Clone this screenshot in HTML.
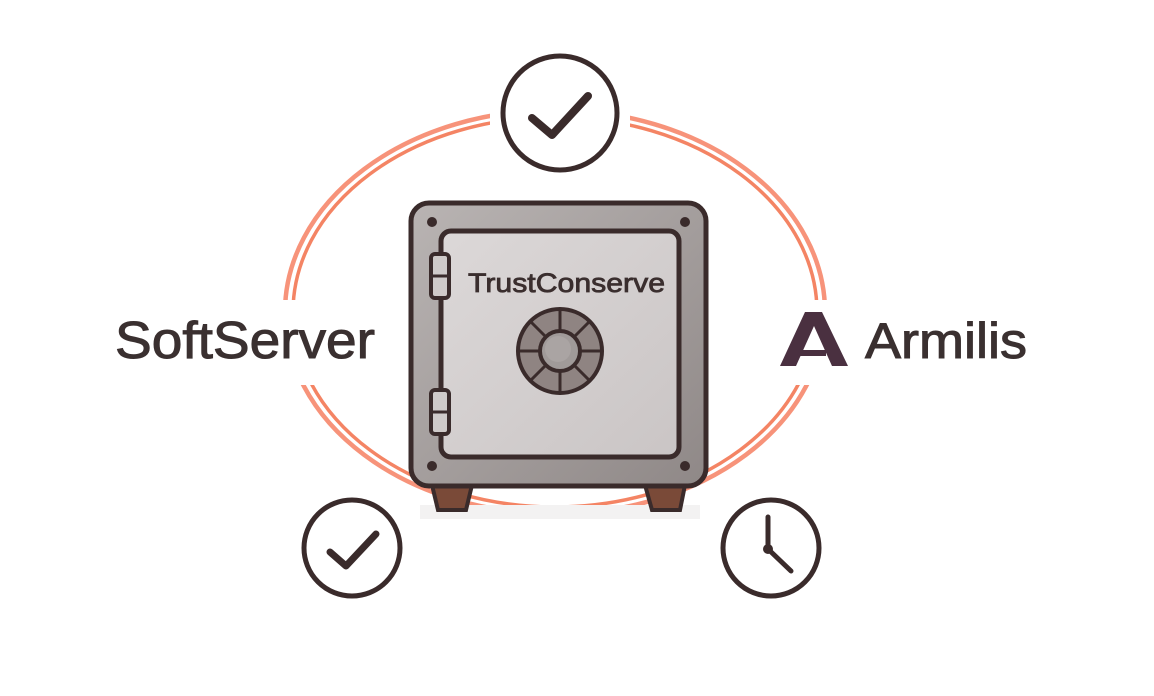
<!DOCTYPE html>
<html><head><style>
html,body{margin:0;padding:0;background:#fff;width:1154px;height:696px;overflow:hidden}
svg{display:block}
text{font-family:"Liberation Sans",sans-serif}
</style></head><body>
<svg width="1154" height="696" viewBox="0 0 1154 696">
<defs>
<linearGradient id="g1" x1="0" y1="0" x2="1" y2="1"><stop offset="0" stop-color="#b9b4b3"/><stop offset="1" stop-color="#8f8887"/></linearGradient>
<linearGradient id="g2" x1="0" y1="0" x2="1" y2="1"><stop offset="0" stop-color="#dcd8d8"/><stop offset="1" stop-color="#cac5c5"/></linearGradient>
</defs>
<ellipse cx="555" cy="312" rx="270" ry="202" fill="none" stroke="#f7937a" stroke-width="4.5"/>
<ellipse cx="555" cy="312" rx="262" ry="195" fill="none" stroke="#f48464" stroke-width="3.5"/>
<rect x="490" y="50" width="140" height="130" fill="#fff"/>
<rect x="260" y="300" width="60" height="85" fill="#fff"/>
<rect x="790" y="300" width="60" height="85" fill="#fff"/>
<!-- circles -->
<circle cx="560" cy="113" r="57" fill="#fff" stroke="#3a2b2b" stroke-width="5"/>
<path d="M532 118 L552 135 L588 96" fill="none" stroke="#3a2b2b" stroke-width="8" stroke-linecap="round" stroke-linejoin="round"/>
<circle cx="352" cy="548" r="48" fill="#fff" stroke="#3a2b2b" stroke-width="5"/>
<path d="M330 552 L346 566 L376 534" fill="none" stroke="#3a2b2b" stroke-width="7" stroke-linecap="round" stroke-linejoin="round"/>
<circle cx="771" cy="548" r="48" fill="#fff" stroke="#3a2b2b" stroke-width="5"/>
<path d="M768 517 L768 549 L791 571" fill="none" stroke="#3a2b2b" stroke-width="5" stroke-linecap="round" stroke-linejoin="round"/>
<circle cx="768" cy="549" r="5" fill="#3a2b2b"/>
<!-- safe -->
<rect x="420" y="505" width="280" height="14" fill="#f3f2f2"/>
<path d="M432 485 L472 485 L466 510 L438 510 Z" fill="#7a4a38" stroke="#3a2b2b" stroke-width="4"/>
<path d="M645 485 L685 485 L680 510 L652 510 Z" fill="#7a4a38" stroke="#3a2b2b" stroke-width="4"/>
<rect x="411" y="203" width="295" height="283" rx="18" fill="url(#g1)" stroke="#3a2b2b" stroke-width="5"/>
<rect x="441" y="231" width="238" height="226" rx="10" fill="url(#g2)" stroke="#3a2b2b" stroke-width="5"/>
<circle cx="432" cy="222" r="5" fill="#3a2b2b"/><circle cx="685" cy="222" r="5" fill="#3a2b2b"/>
<circle cx="432" cy="466" r="5" fill="#3a2b2b"/><circle cx="685" cy="466" r="5" fill="#3a2b2b"/>
<rect x="431" y="254" width="18" height="44" rx="4" fill="#cfcac9" stroke="#3a2b2b" stroke-width="4"/>
<line x1="431" y1="276" x2="449" y2="276" stroke="#3a2b2b" stroke-width="3"/>
<rect x="431" y="390" width="18" height="44" rx="4" fill="#cfcac9" stroke="#3a2b2b" stroke-width="4"/>
<line x1="431" y1="412" x2="449" y2="412" stroke="#3a2b2b" stroke-width="3"/>
<text x="468" y="292" font-size="27" fill="#3a2e2e" stroke="#3a2e2e" stroke-width="0.8" textLength="197" lengthAdjust="spacingAndGlyphs">TrustConserve</text>
<circle cx="560" cy="351" r="42" fill="#8f8482" stroke="#3a2b2b" stroke-width="4"/>
<g stroke="#3a2b2b" stroke-width="3">
<line x1="560" y1="309" x2="560" y2="393"/><line x1="518" y1="351" x2="602" y2="351"/>
<line x1="530" y1="321" x2="590" y2="381"/><line x1="590" y1="321" x2="530" y2="381"/>
</g>
<circle cx="560" cy="351" r="20" fill="#a09a99" stroke="#3a2b2b" stroke-width="4"/>
<circle cx="558" cy="349" r="13" fill="#aaa4a3"/>
<!-- labels -->
<text x="115" y="358" font-size="52" fill="#3a3030" stroke="#3a3030" stroke-width="1" textLength="260" lengthAdjust="spacingAndGlyphs">SoftServer</text>
<path d="M780 366 L805 312 L822 312 L848 366 L832 366 L814 326 L796 366 Z M803 350 L826 350 L826 356 L800 356 Z" fill="#4a3040"/>
<text x="865" y="358" font-size="50" fill="#3a3030" stroke="#3a3030" stroke-width="1" textLength="162" lengthAdjust="spacingAndGlyphs">Armilis</text>
</svg>
</body></html>
